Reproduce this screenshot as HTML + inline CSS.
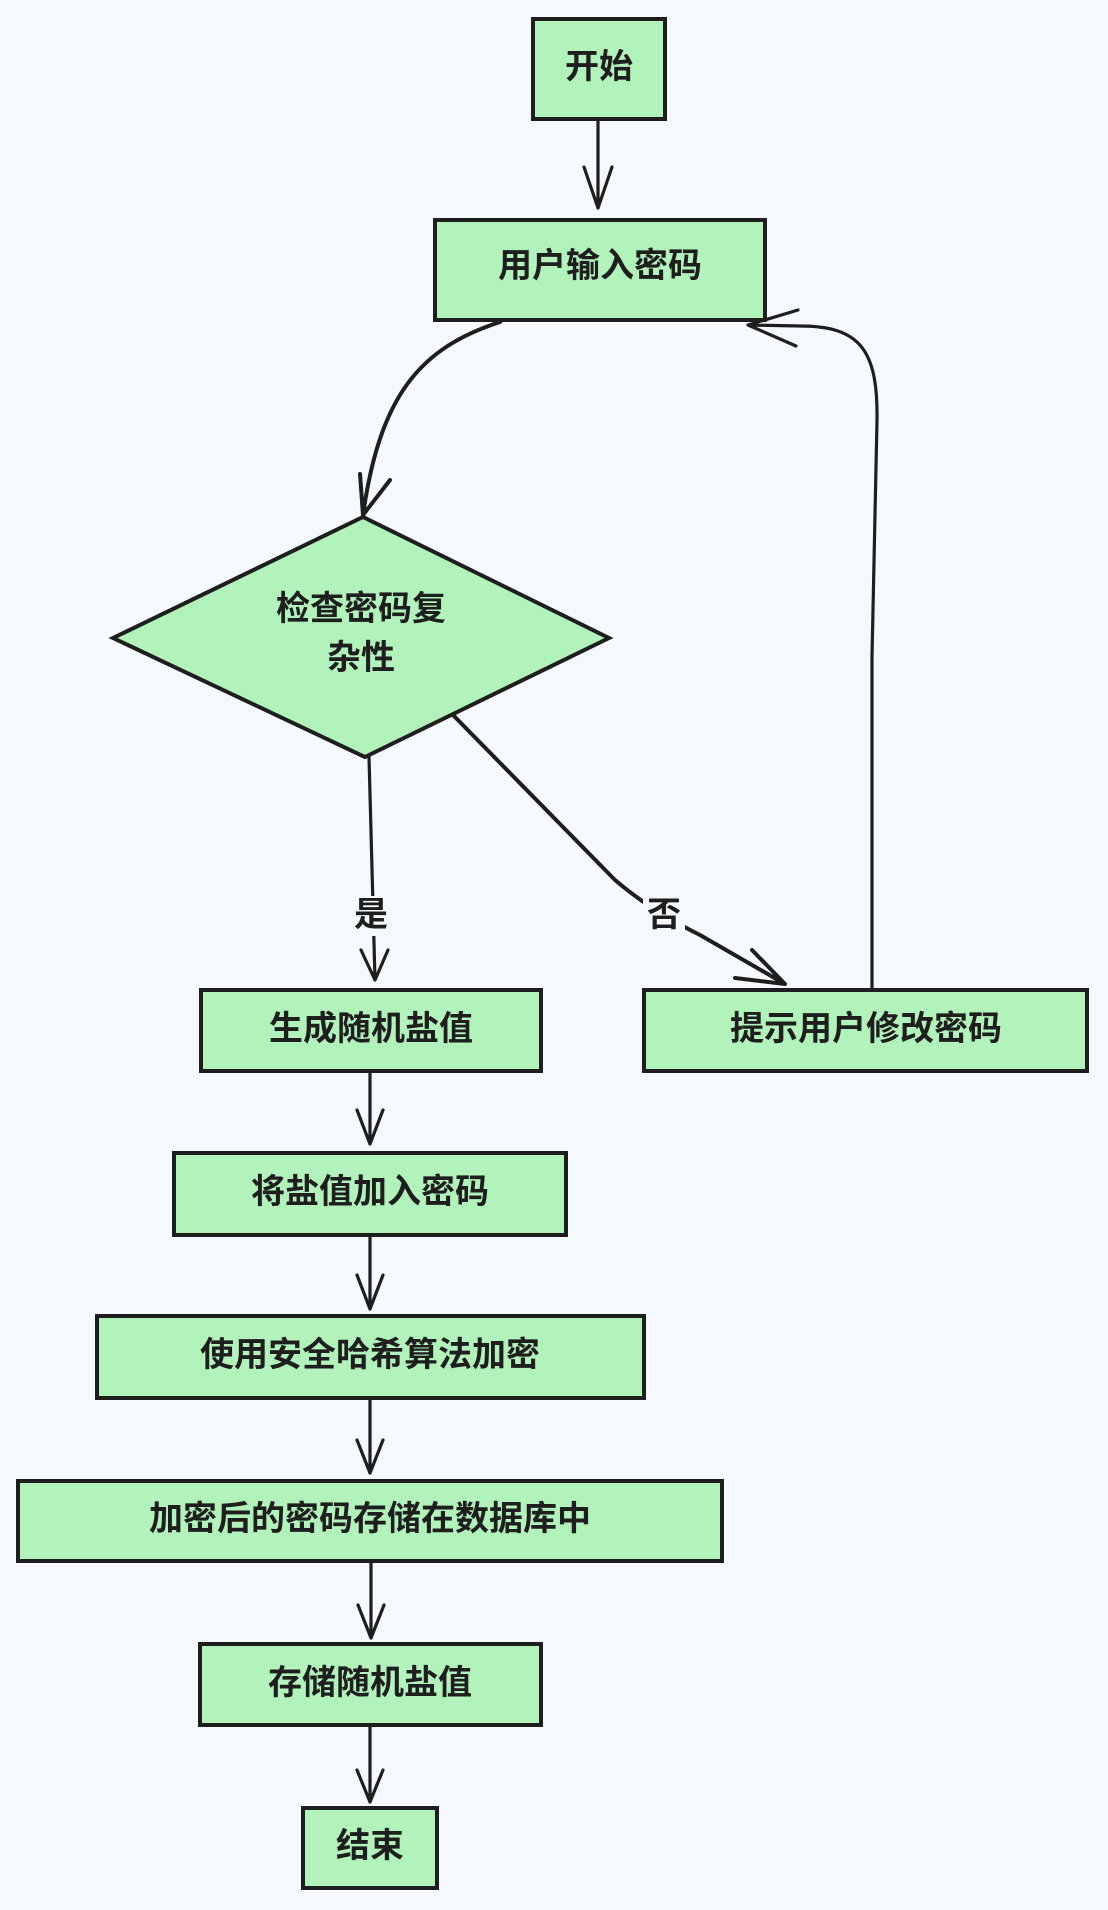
<!DOCTYPE html>
<html><head><meta charset="utf-8"><style>
html,body{margin:0;padding:0;background:#f5f9fd;}
svg{display:block}
text{font-family:"Liberation Sans","Noto Sans CJK SC",sans-serif;font-size:34px;font-weight:bold;fill:#1e1e1e;text-anchor:middle;dominant-baseline:central}
</style></head><body>
<svg width="1108" height="1910" viewBox="0 0 1108 1910">
<rect width="1108" height="1910" fill="#f5f9fd"/>
<g fill="#b2f2bb" stroke="#1e1e1e" stroke-width="4">
<rect x="533" y="19" width="132" height="100"/>
<rect x="435" y="220" width="330" height="100"/>
<polygon points="113,638 363,517 609,638 365,757"/>
<rect x="201" y="990" width="340" height="81"/>
<rect x="644" y="990" width="443" height="81"/>
<rect x="174" y="1153" width="392" height="82"/>
<rect x="97" y="1316" width="547" height="82"/>
<rect x="18" y="1481" width="704" height="80"/>
<rect x="200" y="1644" width="341" height="81"/>
<rect x="303" y="1808" width="134" height="80"/>
</g>
<g fill="none" stroke="#1e1e1e" stroke-width="3.2" stroke-linecap="round" stroke-linejoin="round">
<path d="M598 121 L598 208 M584 167 L598 208 L612 167"/>
<path d="M500 322 C420 348 380 395 363 515 M360 474 L363 515 L390 480" stroke-width="4"/>
<path d="M369 757 L375 980 M361 950 L375 980 L388 950"/>
<path d="M453 715 L615 880 Q650 910 700 935 L785 984 M735 978 L785 984 L752 950" stroke-width="4"/>
<path d="M872 990 L872 657 L877 420 C878 350 860 326 800 326 L748 325 M798 310 L748 325 L796 346"/>
<path d="M370 1072 L370 1144 M357 1110 L370 1144 L383 1110"/>
<path d="M370 1236 L370 1309 M357 1275 L370 1309 L383 1275"/>
<path d="M370 1399 L370 1473 M357 1440 L370 1473 L383 1440"/>
<path d="M371 1562 L371 1638 M358 1605 L371 1638 L384 1605"/>
<path d="M370 1726 L370 1802 M357 1770 L370 1802 L383 1770"/>
</g>
<rect x="350" y="896" width="42" height="40" fill="#f5f9fd"/>
<rect x="643" y="896" width="42" height="40" fill="#f5f9fd"/>
<text x="599" y="67">开始</text>
<text x="600" y="266">用户输入密码</text>
<text x="361" y="609">检查密码复</text>
<text x="361" y="658">杂性</text>
<text x="371" y="915">是</text>
<text x="664" y="915">否</text>
<text x="371" y="1029">生成随机盐值</text>
<text x="866" y="1029">提示用户修改密码</text>
<text x="370" y="1192">将盐值加入密码</text>
<text x="370" y="1355">使用安全哈希算法加密</text>
<text x="370" y="1519">加密后的密码存储在数据库中</text>
<text x="370" y="1683">存储随机盐值</text>
<text x="370" y="1846">结束</text>
</svg>
</body></html>
